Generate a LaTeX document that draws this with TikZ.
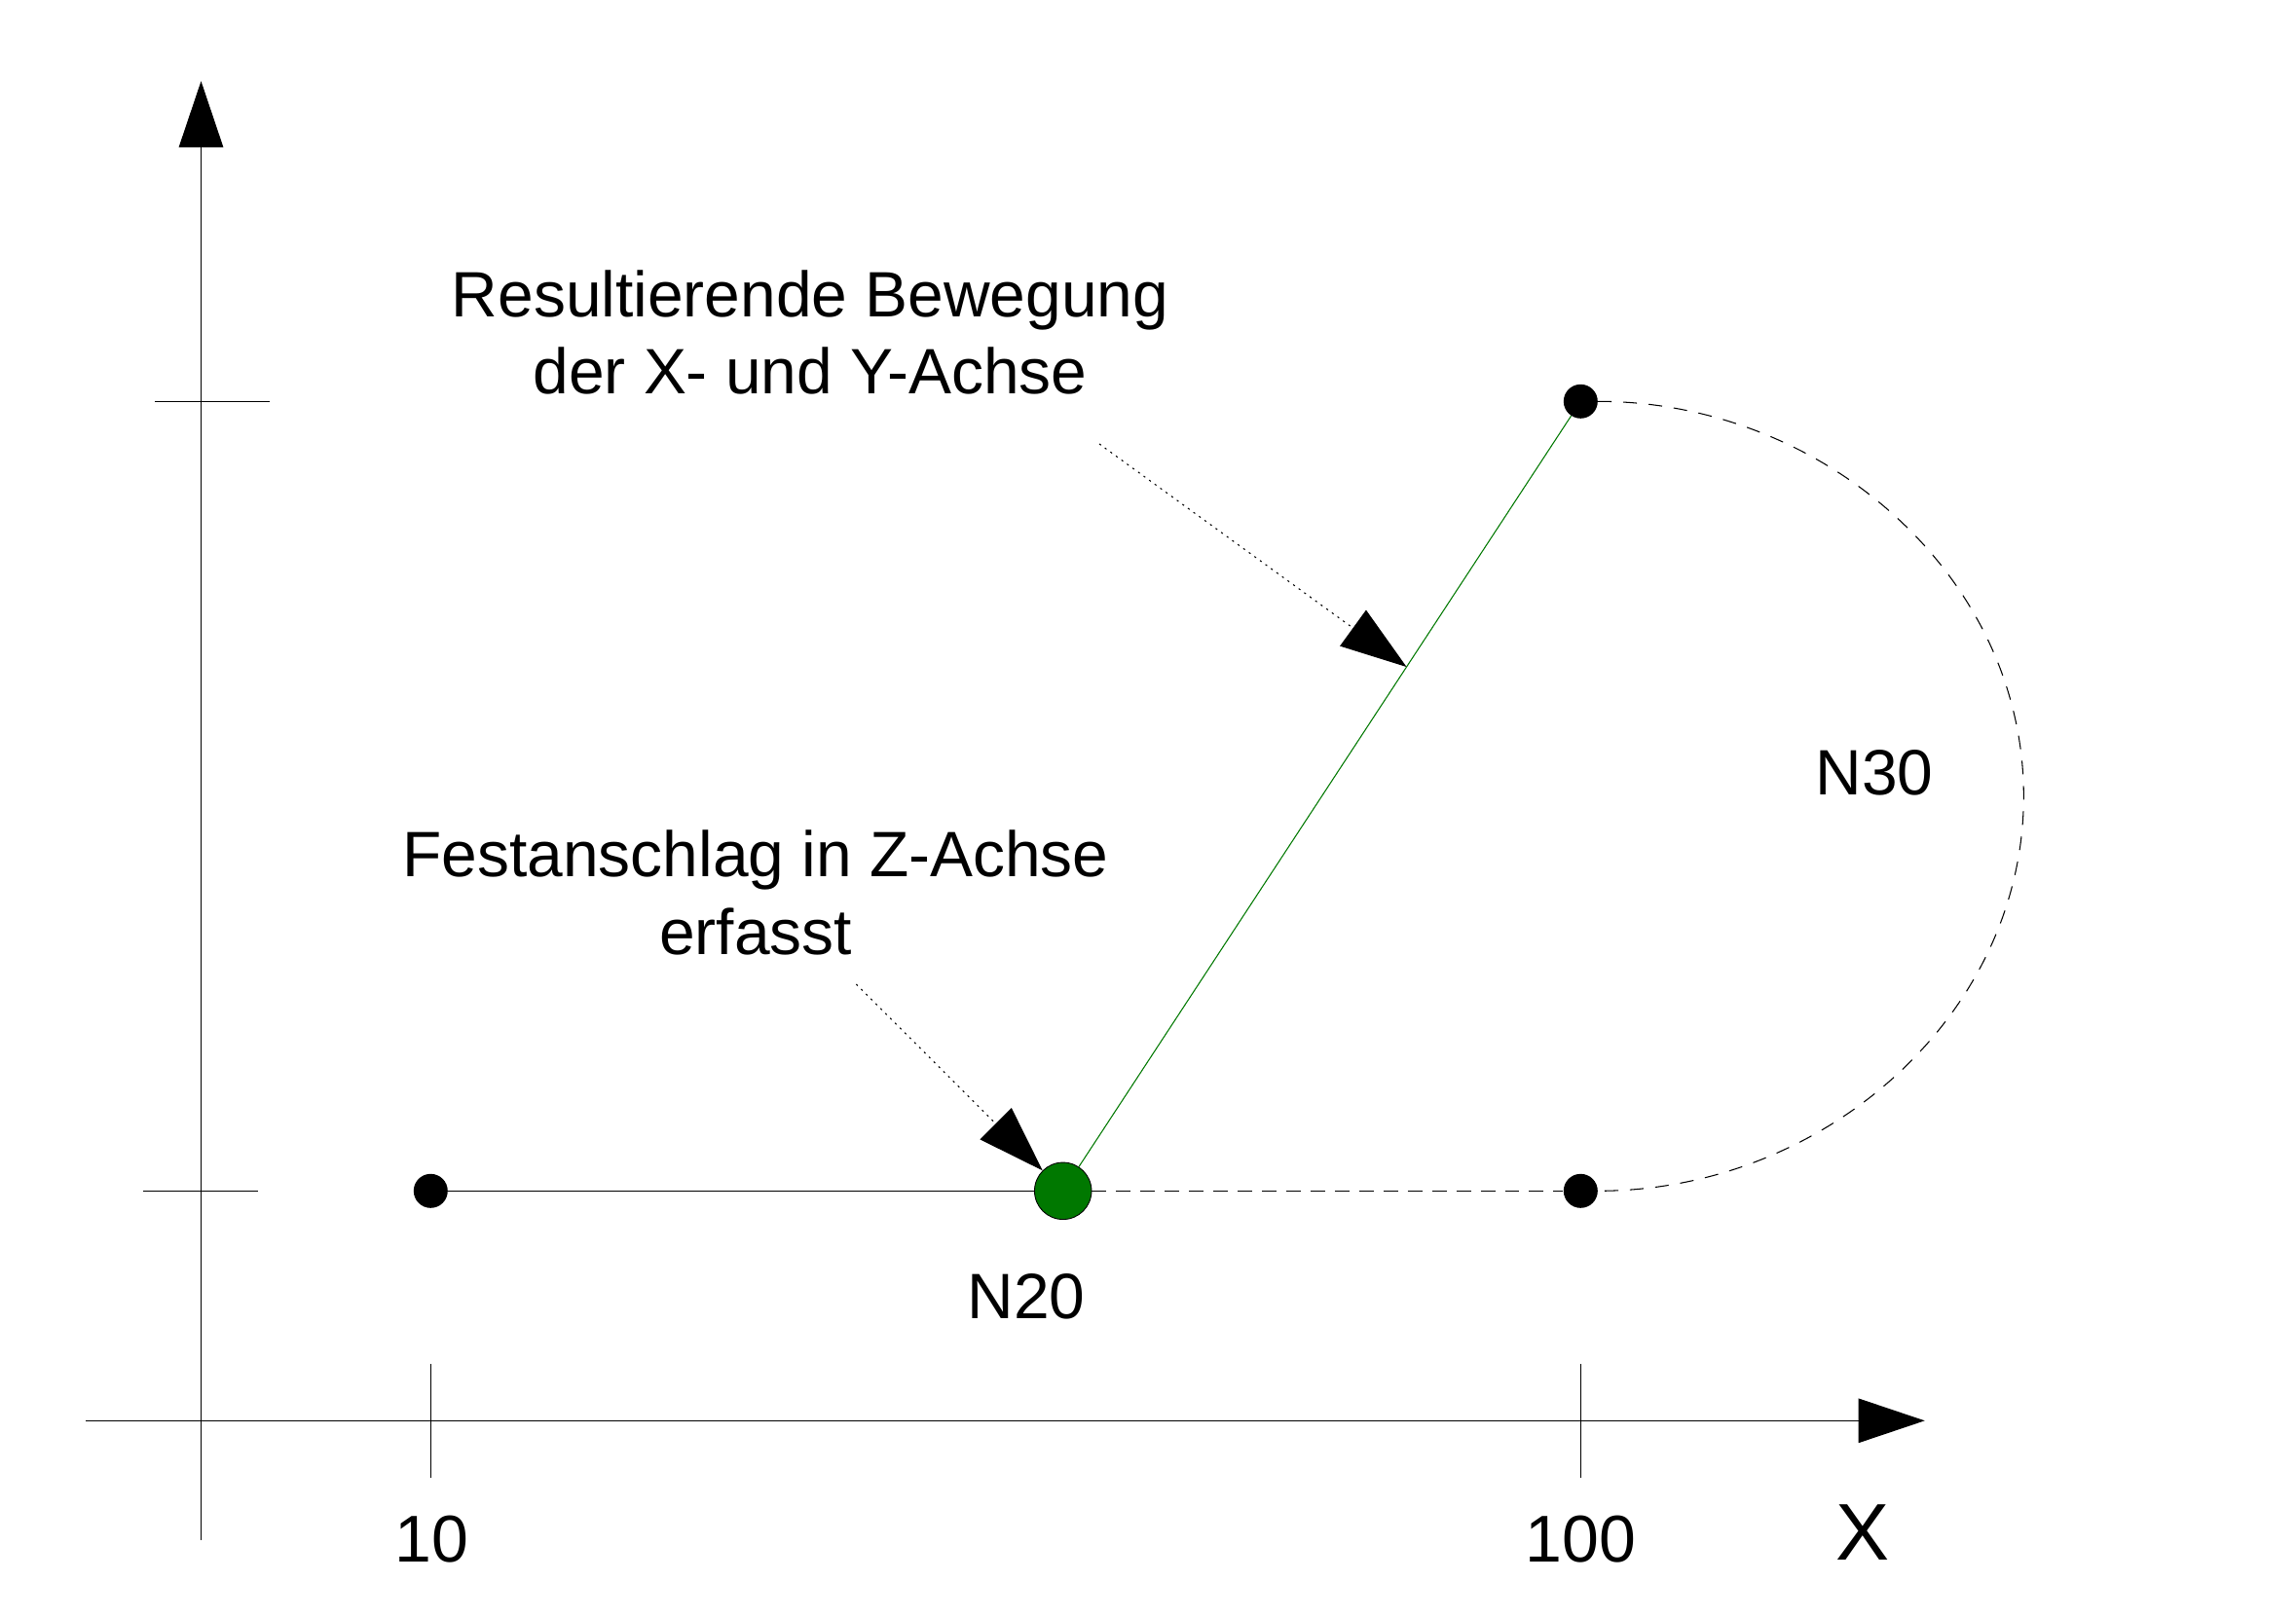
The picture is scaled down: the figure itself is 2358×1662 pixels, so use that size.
\documentclass[tikz,border=0pt]{standalone}
\usepackage{fontspec}
\setmainfont{Liberation Sans}
\usetikzlibrary{arrows.meta,calc}
\definecolor{nodegreen}{RGB}{0,120,0}
\begin{document}
\begin{tikzpicture}[x=0.02cm,y=-0.02cm,
  axisline/.style={line width=0.6pt},
  bigtip/.style={-{Triangle[length=1.36cm,width=0.91cm]}},
  dotpt/.style={circle,fill=black,inner sep=0pt,minimum size=0.7cm},
  greenpt/.style={circle,fill=nodegreen,draw=black,line width=0.5pt,inner sep=0pt,minimum size=1.17cm},
  leader/.style={line width=0.6pt,dash pattern=on 1.2pt off 2.8pt},
  movedash/.style={line width=0.6pt,dash pattern=on 8.5pt off 5.7pt},
  arcdash/.style={line width=0.6pt,dash pattern=on 8pt off 6.8pt},
  greenline/.style={draw=nodegreen,line width=0.6pt},
  txt/.style={font=\fontsize{37.5}{45}\selectfont,inner sep=0pt,anchor=base,align=center},
  numtxt/.style={font=\fontsize{38.7}{46}\selectfont,inner sep=0pt,anchor=base},
  bigtxt/.style={font=\fontsize{47}{56}\selectfont,inner sep=0pt,anchor=base}
]
\useasboundingbox (0,0) rectangle (2358,1662);

% axes
\coordinate (yb) at (206.5,1582);
\coordinate (yt) at (206.5,83.3);
\coordinate (xl) at (88,1459.3);
\coordinate (xr) at (1976.7,1459.3);
\draw[axisline,bigtip] (yb) -- (yt);
\draw[axisline,bigtip] (xl) -- (xr);

% ticks
\coordinate (ty1a) at (159,412.3);   \coordinate (ty1b) at (276.7,412.3);
\coordinate (ty2a) at (147,1223.3);  \coordinate (ty2b) at (264.7,1223.3);
\coordinate (tx1a) at (442.4,1401);  \coordinate (tx1b) at (442.4,1518.3);
\coordinate (tx2a) at (1623.6,1401); \coordinate (tx2b) at (1623.6,1518.3);
\draw[axisline] (ty1a) -- (ty1b);
\draw[axisline] (ty2a) -- (ty2b);
\draw[axisline] (tx1a) -- (tx1b);
\draw[axisline] (tx2a) -- (tx2b);

% points
\node[dotpt] (p10) at (442.3,1223.3) {};
\node[greenpt] (gN20) at (1091.7,1223.3) {};
\node[dotpt] (p30s) at (1623.3,412.3) {};
\node[dotpt] (p100) at (1623.3,1223.3) {};

% paths
\draw[axisline] (p10) -- (gN20);
\draw[movedash] (gN20) -- (p100);
\draw[greenline] (gN20) -- (p30s);
\coordinate (arcR) at (2078.3,817.8);
\draw[arcdash] (p30s) .. controls +(251.3,0) and +(0,-224) .. (arcR)
               .. controls +(0,224) and +(251.3,0) .. (p100);

% leaders
\coordinate (l1s) at (1129,456);
\coordinate (l1e) at ($(gN20)!0.6637!(p30s)$);
\draw[leader,bigtip] (l1s) -- (l1e);
\coordinate (l2s) at (879.4,1011);
\draw[leader,bigtip] (l2s) -- (gN20);

% texts
\node[txt] (t1) at (832,404.3) {Resultierende Bewegung\\der X- und Y-Achse};
\node[txt] (t2) at (776,980) {Festanschlag in Z-Achse\\erfasst};
\node[txt] (n30) at (1925,816.8) {N30};
\node[txt] (n20) at (1054,1354.3) {N20};
\node[numtxt] (l10) at (443.7,1604) {10};
\node[numtxt] (l100) at (1623.5,1604) {100};
\node[bigtxt] (lx) at (1913,1602.7) {X};
\end{tikzpicture}
\end{document}
